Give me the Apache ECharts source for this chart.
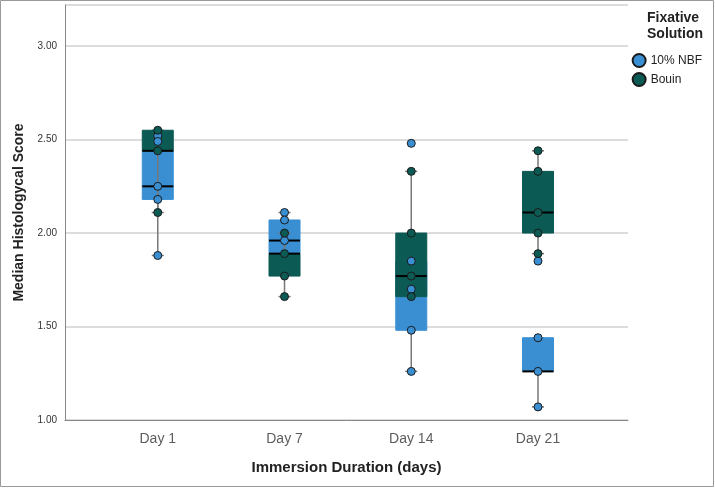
<!DOCTYPE html>
<html><head><meta charset="utf-8">
<script src="https://cdn.jsdelivr.net/npm/echarts@6/dist/echarts.min.js"></script>
<style>html,body{margin:0;padding:0;background:#fff}#main{width:715px;height:488px}</style>
</head><body><div id="main"></div>
<script>
var categories = ['Day 1', 'Day 7', 'Day 14', 'Day 21'];
// [min, q1, median, q3, max]
var nbfBox = [[1.88, 2.18, 2.25, 2.44, 2.52], [1.89, 1.89, 1.96, 2.07, 2.11], [1.26, 1.48, 1.70, 1.85, 1.85], [1.07, 1.26, 1.26, 1.44, 1.44]];
var bouinBox = [[2.11, 2.44, 2.44, 2.55, 2.55], [1.66, 1.77, 1.89, 1.89, 2.00], [1.66, 1.66, 1.77, 2.00, 2.33], [1.89, 2.00, 2.11, 2.33, 2.44]];
var nbfPoints = [[2.52, 2.49, 2.25, 2.18, 1.88], [2.11, 2.07, 1.96], [2.48, 1.85, 1.70, 1.48, 1.26], [1.85, 1.44, 1.26, 1.07]];
var bouinPoints = [[2.55, 2.44, 2.11], [2.00, 1.89, 1.77, 1.66], [2.33, 2.00, 1.77, 1.66], [2.44, 2.33, 2.11, 2.00, 1.89]];
var blue = '#3a8fd3', green = '#0c5a54';

var chart = echarts.init(document.getElementById('main'), null, {renderer: 'canvas'});

function boxData(arr) {
  return arr.map(function (b, i) { return [i + 1].concat(b); });
}
function ptData(arr) {
  var out = [];
  arr.forEach(function (p, i) { p.forEach(function (v) { out.push([i + 1, v]); }); });
  return out;
}
function renderBox(color) {
  return function (params, api) {
    var x = api.value(0);
    var lo = api.coord([x, api.value(1)]), q1 = api.coord([x, api.value(2)]),
        md = api.coord([x, api.value(3)]), q3 = api.coord([x, api.value(4)]),
        hi = api.coord([x, api.value(5)]);
    var cx = lo[0], hw = 15.5, cw = 6;
    var ln = {stroke: '#777', lineWidth: 1.5};
    return {type: 'group', children: [
      {type: 'line', shape: {x1: cx, y1: lo[1], x2: cx, y2: hi[1]}, style: ln},
      {type: 'line', shape: {x1: cx - cw, y1: lo[1], x2: cx + cw, y2: lo[1]}, style: ln},
      {type: 'line', shape: {x1: cx - cw, y1: hi[1], x2: cx + cw, y2: hi[1]}, style: ln},
      {type: 'rect', shape: {x: cx - hw, y: q3[1], width: hw * 2, height: Math.max(q1[1] - q3[1], 0.5)},
        style: {fill: color, stroke: color, lineWidth: 1}},
      {type: 'line', shape: {x1: cx - hw, y1: md[1], x2: cx + hw, y2: md[1]}, style: {stroke: '#000', lineWidth: 2}}
    ]};
  };
}

var option = {
  animation: false,
  grid: {left: 65, right: 87, top: 5, bottom: 68},
  xAxis: {
    type: 'value', min: 0.268, max: 4.71,
    name: 'Immersion Duration (days)', nameLocation: 'middle', nameGap: 40,
    nameTextStyle: {fontSize: 15, fontWeight: 'bold', color: '#222', fontFamily: 'Liberation Sans'},
    axisLine: {lineStyle: {color: '#888'}}, axisTick: {show: false}, splitLine: {show: false},
    axisLabel: {show: false}
  },
  yAxis: {
    type: 'value', min: 1, max: 3.22, interval: 0.5,
    name: 'Median Histologycal Score', nameLocation: 'middle', nameGap: 37,
    nameTextStyle: {fontSize: 14, fontWeight: 'bold', color: '#222', fontFamily: 'Liberation Sans'},
    axisLine: {show: true, lineStyle: {color: '#888'}}, axisTick: {show: false},
    splitLine: {lineStyle: {color: '#d0d0d0', width: 1.5}},
    axisLabel: {fontSize: 10, color: '#333', fontFamily: 'Liberation Sans', showMaxLabel: false,
      formatter: function (v) { return v.toFixed(2); }}
  },
  legend: {
    orient: 'vertical', right: 8, top: 48, itemGap: 4, itemWidth: 13, itemHeight: 13,
    textStyle: {fontSize: 12, color: '#222', fontFamily: 'Liberation Sans'},
    data: [{name: '10% NBF', icon: 'circle'}, {name: 'Bouin', icon: 'circle'}]
  },
  graphic: [
    {type: 'rect', shape: {x: 0.5, y: 0.5, width: 713, height: 486}, style: {fill: 'none', stroke: '#999', lineWidth: 1}},
    {type: 'text', right: 12, top: 10, style: {text: 'Fixative\nSolution', fontSize: 14, fontWeight: 'bold',
      fill: '#222', fontFamily: 'Liberation Sans', align: 'center', lineHeight: 16}}
  ],
  series: [
    {type: 'custom', name: 'nbfBox', renderItem: renderBox(blue), data: boxData(nbfBox), encode: {x: 0, y: [1, 2, 3, 4, 5]}, z: 2},
    {type: 'custom', name: 'bouinBox', renderItem: renderBox(green), data: boxData(bouinBox), encode: {x: 0, y: [1, 2, 3, 4, 5]}, z: 3},
    {type: 'scatter', name: '10% NBF', data: ptData(nbfPoints), symbolSize: 8, z: 5,
      itemStyle: {color: blue, borderColor: '#1a1a1a', borderWidth: 1, opacity: 1}},
    {type: 'scatter', name: 'Bouin', data: ptData(bouinPoints), symbolSize: 8, z: 6,
      itemStyle: {color: green, borderColor: '#1a1a1a', borderWidth: 1, opacity: 1}},
    {type: 'scatter', name: 'catLabels', symbolSize: 0, silent: true, z: 1,
      data: categories.map(function (c, i) { return {value: [i + 1, 1], name: c}; }),
      label: {show: true, position: 'bottom', distance: 12, formatter: '{b}', fontSize: 14,
        color: '#333', fontFamily: 'Liberation Sans'}}
  ]
};
chart.setOption(option);
window.addEventListener('resize', chart.resize);
</script></body></html>
